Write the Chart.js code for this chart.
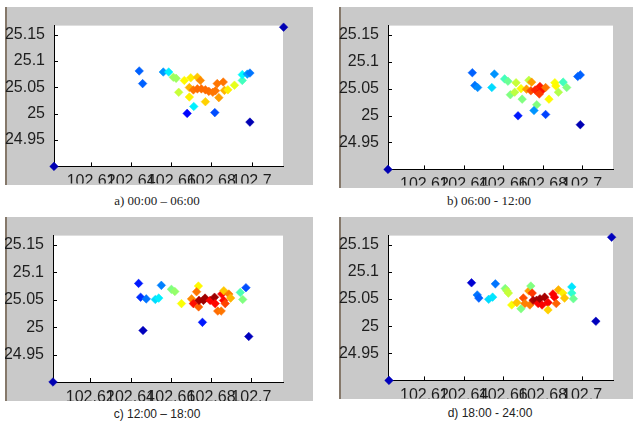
<!DOCTYPE html>
<html><head><meta charset="utf-8">
<script src="https://cdn.jsdelivr.net/npm/chart.js@4"></script>
<style>
body{margin:0;background:#fff;width:633px;height:422px;overflow:hidden;position:relative;}
.panel{position:absolute;background:#c9c9c9;border-left:2px solid #85786a;box-sizing:border-box}
canvas{position:absolute}
.cap{position:absolute;white-space:nowrap;transform:translate(-50%,-50%);color:#222;line-height:1}
</style></head><body>
<script>
// ---- data ----
const xTickValues = [102.62, 102.64, 102.66, 102.68, 102.70];
const xTickLabels = ['102.62', '102.64', '102.66', '102.68', '102.7'];
const yTickValues = [24.95, 25, 25.05, 25.1, 25.15];
const yTickLabels = ['24.95', '25', '25.05', '25.1', '25.15'];
const xRange = [102.6015, 102.7157];
const yRange = [24.9, 25.167];
const captions = ['a) 00:00 \u2013 06:00', 'b) 06:00 - 12:00', 'c) 12:00 \u2013 18:00', 'd) 18:00 - 24:00'];

const aX = [102.644,102.6457,102.656,102.6587,102.661,102.6624,102.6665,102.6697,102.673,102.6745,102.6637,102.669,102.671,102.673,102.675,102.677,102.6787,102.6807,102.682,102.6829,102.6859,102.6837,102.6865,102.6882,102.6915,102.6954,102.6954,102.6979,102.6992,102.669,102.677,102.6712,102.6679,102.6817,102.6992,102.6015,102.716];
const aY = [25.081,25.057,25.079,25.079,25.069,25.067,25.063,25.068,25.069,25.063,25.0405,25.0495,25.045,25.047,25.047,25.0452,25.0423,25.0405,25.0434,25.057,25.060,25.0304,25.0441,25.0452,25.054,25.063,25.074,25.075,25.077,25.0315,25.0227,25.0137,25.0005,25.002,24.984,24.9,25.164];
const aLevel = [0.22,0.22,0.27,0.36,0.53,0.53,0.63,0.64,0.68,0.74,0.57,0.70,0.76,0.77,0.77,0.77,0.77,0.76,0.76,0.76,0.76,0.72,0.70,0.64,0.60,0.44,0.37,0.28,0.24,0.64,0.67,0.36,0.13,0.20,0.05,0.05,0.05];

const bX = [102.6443,102.6555,102.6456,102.647,102.6542,102.6607,102.6624,102.6665,102.6636,102.6658,102.6696,102.669,102.673,102.6744,102.6718,102.674,102.6762,102.6786,102.6795,102.6783,102.6815,102.677,102.6756,102.6675,102.6815,102.6832,102.6862,102.6867,102.688,102.6904,102.6922,102.6978,102.6991,102.6991,102.6015];
const bY = [25.0795,25.077,25.056,25.052,25.052,25.068,25.0637,25.061,25.0386,25.0433,25.0304,25.05,25.0655,25.062,25.049,25.046,25.0475,25.054,25.046,25.040,25.052,25.020,25.0093,24.9995,25.002,25.0304,25.061,25.055,25.0433,25.062,25.052,25.0725,25.0755,24.983,24.9];
const bLevel = [0.22,0.27,0.24,0.26,0.34,0.44,0.48,0.57,0.50,0.56,0.50,0.62,0.56,0.72,0.72,0.80,0.84,0.85,0.86,0.82,0.76,0.50,0.27,0.15,0.19,0.63,0.62,0.63,0.55,0.44,0.50,0.22,0.22,0.05,0.05];

const cX = [102.644,102.645,102.6478,102.6553,102.6523,102.654,102.6603,102.662,102.6653,102.6737,102.6728,102.6703,102.6712,102.6738,102.674,102.6762,102.677,102.6795,102.6817,102.6853,102.682,102.6862,102.687,102.6833,102.685,102.6863,102.6888,102.6897,102.6945,102.6957,102.6973,102.6757,102.6462,102.6987,102.6015];
const cY = [25.0798,25.0546,25.0516,25.0763,25.0505,25.053,25.069,25.065,25.043,25.075,25.0646,25.0516,25.043,25.037,25.0488,25.0488,25.053,25.0488,25.0546,25.0604,25.043,25.0488,25.043,25.0294,25.0294,25.0664,25.0604,25.053,25.0634,25.0505,25.072,25.0088,24.994,24.983,24.9];
const cLevel = [0.15,0.17,0.24,0.25,0.34,0.36,0.50,0.52,0.62,0.63,0.76,0.74,0.86,0.78,0.96,0.97,0.97,0.88,0.97,0.87,0.87,0.87,0.81,0.77,0.76,0.68,0.75,0.70,0.45,0.50,0.20,0.15,0.06,0.06,0.05];

const dX = [102.6439,102.656,102.6468,102.6476,102.6526,102.6546,102.661,102.6618,102.6626,102.6643,102.6669,102.669,102.6702,102.671,102.673,102.674,102.6747,102.6735,102.6752,102.6769,102.6777,102.6786,102.681,102.6797,102.6827,102.6852,102.686,102.6869,102.6827,102.688,102.6902,102.6911,102.6948,102.6948,102.6956,102.707,102.715,102.602];
const dY = [25.080,25.078,25.0576,25.0518,25.0495,25.0535,25.0694,25.0653,25.061,25.039,25.0435,25.032,25.052,25.0418,25.065,25.074,25.061,25.039,25.0477,25.0477,25.0417,25.0505,25.0535,25.039,25.0435,25.0594,25.0535,25.0417,25.030,25.067,25.061,25.0518,25.0724,25.061,25.0505,25.009,25.164,24.9];
const dLevel = [0.08,0.24,0.24,0.22,0.34,0.35,0.50,0.55,0.57,0.62,0.68,0.50,0.80,0.75,0.72,0.50,0.82,0.75,0.95,0.97,0.88,0.97,0.96,0.88,0.88,0.88,0.88,0.78,0.67,0.70,0.64,0.68,0.35,0.42,0.48,0.06,0.06,0.06];

// ---- layout (page pixels) ----
const panels = [
  {xs:aX, ys:aY, lv:aLevel, box:[5,7,308,178],   area:[49,11,278,161], cap:[157,201], font:"13px 'Liberation Serif', serif"},
  {xs:bX, ys:bY, lv:bLevel, box:[339,7,294,181], area:[49,10,274,165], cap:[489,201], font:"13px 'Liberation Serif', serif"},
  {xs:cX, ys:cY, lv:cLevel, box:[5,217,308,184], area:[48,11,278,165], cap:[157,414], font:"12px 'Liberation Sans', sans-serif"},
  {xs:dX, ys:dY, lv:dLevel, box:[339,217,294,182],area:[49,13,274,164], cap:[490,413], font:"12px 'Liberation Sans', sans-serif"}
];

function jet(t){
  const c = v => Math.max(0, Math.min(1, v));
  const r = c(Math.min(4*t-1.5, -4*t+4.5));
  const g = c(Math.min(4*t-0.5, -4*t+3.5));
  const b = c(Math.min(4*t+0.5, -4*t+2.5));
  return `rgb(${Math.round(r*255)},${Math.round(g*255)},${Math.round(b*255)})`;
}

const frame = {
  id:'frame',
  beforeDraw(chart){
    const {ctx, chartArea:a} = chart;
    ctx.save(); ctx.fillStyle='#fff';
    ctx.fillRect(a.left, a.top, a.right-a.left, a.bottom-a.top);
    ctx.restore();
  },
  beforeDatasetsDraw(chart){
    const {ctx, chartArea:a, scales} = chart;
    ctx.save(); ctx.strokeStyle='#000'; ctx.lineWidth=1;
    ctx.beginPath();
    xTickValues.forEach(v=>{ const p=Math.round(scales.x.getPixelForValue(v))+0.5; ctx.moveTo(p,a.bottom); ctx.lineTo(p,a.bottom-4); });
    yTickValues.forEach(v=>{ const p=Math.round(scales.y.getPixelForValue(v))+0.5; ctx.moveTo(a.left,p); ctx.lineTo(a.left+4,p); });
    ctx.stroke(); ctx.restore();
  }
};

const tickFont = {family:"'Liberation Sans', Arial, sans-serif", size:16};

panels.forEach((p,i)=>{
  const [L,T,W,H] = p.box;
  const g = document.createElement('div'); g.className='panel';
  Object.assign(g.style,{left:L+'px',top:T+'px',width:W+'px',height:H+'px'});
  document.body.appendChild(g);
  const cv = document.createElement('canvas');
  cv.width=W; cv.height=H; Object.assign(cv.style,{left:L+'px',top:T+'px',width:W+'px',height:H+'px'});
  document.body.appendChild(cv);
  const cap = document.createElement('div'); cap.className='cap';
  cap.textContent = captions[i]; cap.style.font = p.font;
  cap.style.left = p.cap[0]+'px'; cap.style.top = p.cap[1]+'px';
  document.body.appendChild(cap);

  const [al,at,ar,ab] = p.area;
  const pts = p.xs.map((x,k)=>({x, y:p.ys[k]}));
  const cols = p.lv.map(jet);
  new Chart(cv, {
    type:'scatter',
    data:{datasets:[{data:pts, pointStyle:'rectRot', pointRadius:4.3, pointHoverRadius:4.3,
      backgroundColor:cols, borderColor:cols, borderWidth:0.5, clip:false}]},
    options:{
      responsive:false, animation:false, devicePixelRatio:1,
      layout:{padding:{left:0, top:at, right:W-ar, bottom:0}},
      plugins:{legend:{display:false}, tooltip:{enabled:false}},
      events:[],
      scales:{
        x:{type:'linear', min:xRange[0], max:xRange[1],
           grid:{display:false, drawTicks:false}, border:{display:true,color:'#000',width:1},
           afterBuildTicks:s=>{ s.ticks = xTickValues.map(v=>({value:v})); },
           afterFit:s=>{ s.height = H-ab; },
           ticks:{autoSkip:false, maxRotation:0, minRotation:0, padding:6, color:'#1e1e1e', font:tickFont,
             callback:(v)=>{ const k=xTickValues.findIndex(t=>Math.abs(t-v)<1e-9); return k>=0?xTickLabels[k]:''; }}},
        y:{type:'linear', min:yRange[0], max:yRange[1],
           grid:{display:false, drawTicks:false}, border:{display:true,color:'#000',width:1},
           afterBuildTicks:s=>{ s.ticks = yTickValues.map(v=>({value:v})); },
           afterFit:s=>{ s.width = al; },
           ticks:{autoSkip:false, padding:9, color:'#1e1e1e', font:tickFont,
             callback:(v)=>{ const k=yTickValues.findIndex(t=>Math.abs(t-v)<1e-9); return k>=0?yTickLabels[k]:''; }}}
      }
    },
    plugins:[frame]
  });
});
</script>
</body></html>
